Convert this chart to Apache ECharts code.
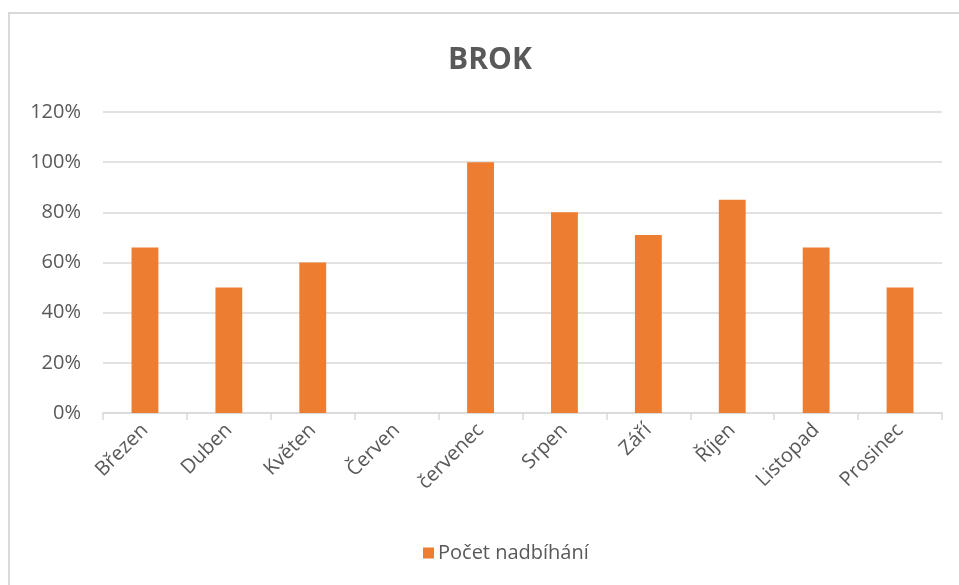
<!DOCTYPE html>
<html>
<head>
<meta charset="utf-8">
<script src="https://cdn.jsdelivr.net/npm/echarts@6/dist/echarts.min.js"></script>
<style>
html,body{margin:0;padding:0;background:#fff;}
#chart{width:959px;height:585px;}
</style>
</head>
<body>
<div id="chart"></div>
<script>
const titleText = 'BROK';
const seriesName = 'Počet nadbíhání';
const categories = ['Březen','Duben','Květen','Červen','červenec','Srpen','Září','Říjen','Listopad','Prosinec'];
const values = [0.66, 0.50, 0.60, 0, 1.00, 0.80, 0.71, 0.85, 0.66, 0.50];
const yTicks = {min: 0, max: 1.2, interval: 0.2};

const FONT = '"Open Sans", "Noto Sans", sans-serif';
const TXT = '#595959';

const chart = echarts.init(document.getElementById('chart'), null, {renderer: 'canvas'});
chart.setOption({
  animation: false,
  backgroundColor: '#ffffff',
  graphic: [{
    type: 'rect',
    silent: true,
    z: -10,
    shape: {x: 9, y: 13, width: 2000, height: 2000},
    style: {fill: 'none', stroke: '#d9d9d9', lineWidth: 2}
  }],
  title: {
    text: titleText,
    left: 485,
    textAlign: 'center',
    top: 40,
    textStyle: {fontFamily: FONT, fontSize: 30, fontWeight: 'bold', color: TXT}
  },
  legend: {
    data: [seriesName],
    left: 418,
    top: 538,
    icon: 'rect',
    itemWidth: 11,
    itemHeight: 11,
    itemGap: 10,
    textStyle: {fontFamily: FONT, fontSize: 20, color: TXT, padding: [0, 0, 0, -1]}
  },
  grid: {left: 103, right: 17, top: 112, bottom: 172, containLabel: false},
  xAxis: {
    type: 'category',
    data: categories,
    axisLine: {lineStyle: {color: '#d9d9d9', width: 1.5}},
    axisTick: {show: true, length: 7, lineStyle: {color: '#d9d9d9', width: 1.5}},
    axisLabel: {
      rotate: 45,
      margin: 14,
      interval: 0,
      fontFamily: FONT,
      fontSize: 20,
      color: TXT,
      padding: [0, 0, 0, 0]
    }
  },
  yAxis: {
    type: 'value',
    min: yTicks.min,
    max: yTicks.max,
    interval: yTicks.interval,
    axisLine: {show: false},
    axisTick: {show: false},
    splitLine: {lineStyle: {color: '#d9d9d9', width: 1.5}},
    axisLabel: {
      margin: 22,
      fontFamily: FONT,
      fontSize: 20,
      color: TXT,
      formatter: v => Math.round(v * 100) + '%'
    }
  },
  series: [{
    name: seriesName,
    type: 'bar',
    data: values,
    barWidth: '32%',
    itemStyle: {color: '#ED7D31'}
  }]
});
</script>
</body>
</html>
